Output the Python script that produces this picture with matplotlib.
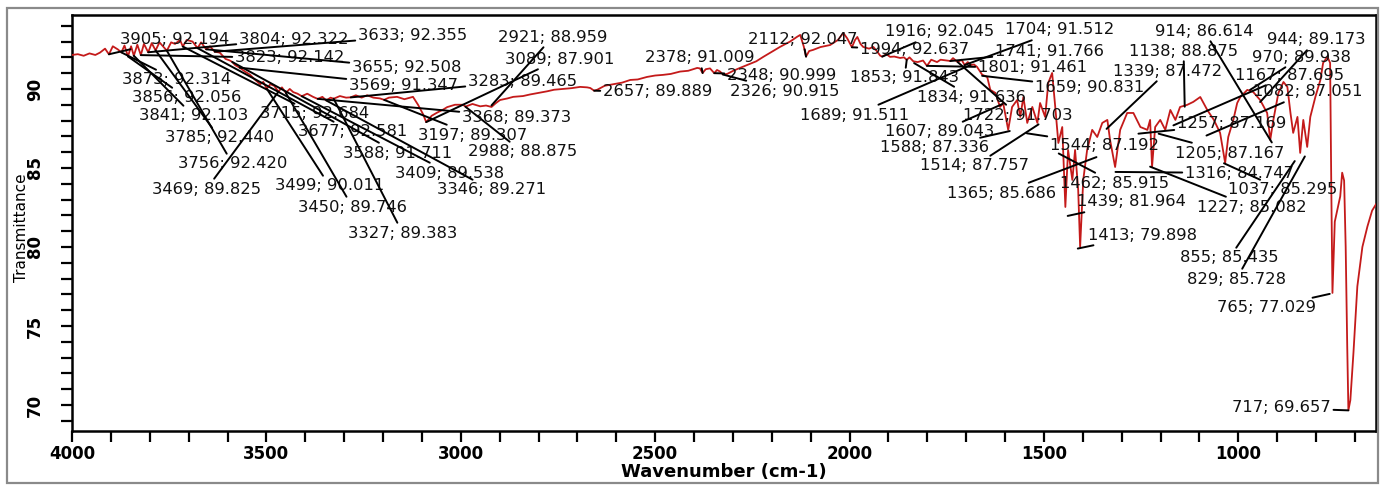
"""FTIR transmittance spectrum with peak-pick annotations (wavenumber; %T)."""

import matplotlib
matplotlib.use("Agg")  # headless
import matplotlib.pyplot as plt
from matplotlib.patches import Rectangle
from matplotlib.ticker import MultipleLocator

# spectrum, high -> low wavenumber
wavenumber = [
    4000, 3985, 3970, 3955, 3940, 3928, 3915, 3905, 3895, 3882, 3873, 3865, 3856, 3848,
    3841, 3832, 3823, 3815, 3804, 3795, 3785, 3775, 3766, 3756, 3745, 3735, 3722, 3715,
    3705, 3690, 3677, 3668, 3655, 3645, 3633, 3620, 3605, 3594, 3588, 3580, 3569, 3555,
    3542, 3530, 3516, 3508, 3499, 3490, 3480, 3469, 3460, 3450, 3440, 3431, 3420, 3409,
    3395, 3380, 3368, 3356, 3346, 3335, 3327, 3311, 3295, 3283, 3270, 3255, 3241, 3225,
    3208, 3197, 3185, 3164, 3145, 3123, 3110, 3097, 3089, 3075, 3061, 3045, 3035, 3015,
    2994, 2988, 2970, 2950, 2935, 2921, 2910, 2899, 2880, 2865, 2840, 2822, 2800, 2778,
    2760, 2737, 2715, 2693, 2675, 2667, 2657, 2649, 2630, 2608, 2585, 2564, 2545, 2521,
    2500, 2480, 2460, 2436, 2415, 2392, 2385, 2378, 2370, 2359, 2348, 2341, 2333, 2326,
    2315, 2299, 2280, 2263, 2240, 2222, 2200, 2179, 2153, 2135, 2127, 2118, 2112, 2104,
    2094, 2075, 2050, 2030, 2016, 2006, 1994, 1986, 1980, 1972, 1965, 1950, 1939, 1930,
    1921, 1916, 1905, 1896, 1885, 1870, 1860, 1853, 1846, 1836, 1825, 1811, 1801, 1790,
    1775, 1766, 1749, 1741, 1734, 1722, 1712, 1704, 1696, 1689, 1680, 1672, 1659, 1646,
    1638, 1625, 1613, 1605, 1592, 1582, 1569, 1561, 1553, 1543, 1530, 1517, 1510, 1497,
    1489, 1479, 1471, 1463, 1453, 1445, 1438, 1427, 1420, 1412, 1407, 1399, 1389, 1376,
    1363, 1350, 1337, 1330, 1317, 1304, 1286, 1270, 1252, 1234, 1227, 1222, 1214, 1201,
    1188, 1175, 1162, 1150, 1132, 1116, 1098, 1080, 1063, 1047, 1034, 1026, 1013, 1003,
    995, 977, 962, 944, 926, 918, 910, 897, 884, 874, 866, 859, 848, 841,
    833, 823, 815, 802, 789, 782, 771, 764, 761, 758, 752, 745, 738, 733,
    728, 724, 720, 717, 712, 704, 694, 681, 668, 656, 646,
]
transmittance = [
    92.15, 92.2, 92.1, 92.25, 92.15, 92.3, 92.55, 92.19, 92.7, 92.5, 92.31, 92.75, 92.06, 92.7,
    92.1, 92.8, 92.14, 92.85, 92.32, 92.9, 92.44, 92.95, 92.7, 92.42, 92.95, 92.85, 93.1, 92.68,
    93.1, 93.0, 92.58, 92.95, 92.51, 92.7, 92.36, 92.3, 91.9, 91.8, 91.71, 91.5, 91.35, 91.1,
    90.9, 90.6, 90.3, 90.45, 90.01, 90.3, 90.2, 89.83, 90.1, 89.75, 90.0, 89.8, 89.7, 89.54,
    89.7, 89.5, 89.37, 89.5, 89.27, 89.45, 89.38, 89.55, 89.45, 89.47, 89.6, 89.45, 89.6, 89.45,
    89.4, 89.31, 89.45, 89.5, 89.35, 89.5, 89.0, 88.4, 87.9, 88.3, 88.5, 88.7, 88.85, 89.0,
    89.0, 88.88, 89.05, 88.9, 88.95, 88.86, 89.1, 89.3, 89.4, 89.5, 89.55, 89.65, 89.75, 89.85,
    89.95, 90.0, 90.05, 90.13, 90.1, 90.06, 89.89, 89.95, 90.2, 90.3, 90.4, 90.57, 90.6, 90.76,
    90.85, 90.89, 90.95, 91.1, 91.15, 91.33, 91.3, 91.01, 91.25, 91.3, 91.0, 91.2, 91.1, 90.92,
    90.95, 91.15, 91.35, 91.52, 91.75, 92.03, 92.35, 92.66, 93.0, 93.3, 93.42, 92.7, 92.05, 92.4,
    92.47, 92.65, 92.78, 93.1, 93.54, 93.2, 92.64, 93.1, 93.29, 92.85, 92.66, 92.55, 92.66, 92.4,
    92.1, 92.05, 92.2, 92.03, 92.05, 91.96, 92.0, 91.84, 92.0, 91.75, 91.7, 91.8, 91.46, 91.85,
    91.7, 91.85, 91.8, 91.77, 91.95, 91.7, 91.85, 91.51, 91.7, 91.51, 91.55, 91.39, 90.9, 90.76,
    89.94, 89.75, 88.86, 89.11, 87.41, 88.86, 89.3, 88.23, 89.49, 87.85, 88.86, 87.85, 89.11, 88.23,
    90.38, 91.01, 88.86, 86.58, 87.59, 82.53, 86.14, 84.24, 86.14, 83.61, 80.0, 84.24, 86.14, 87.41,
    86.96, 87.85, 88.04, 86.77, 85.06, 87.41, 88.48, 88.48, 87.59, 87.41, 88.04, 85.06, 87.59, 88.04,
    87.41, 88.67, 88.04, 88.86, 88.99, 89.18, 89.49, 88.67, 88.04, 87.22, 85.32, 86.96, 88.04, 89.11,
    89.49, 89.94, 89.81, 89.3, 88.48, 86.77, 88.04, 89.75, 90.44, 90.13, 88.48, 87.22, 88.23, 85.95,
    88.04, 86.33, 88.23, 89.49, 90.57, 91.65, 92.03, 91.65, 83.8, 77.09, 81.6, 82.4, 83.2, 84.7,
    84.2, 80.0, 73.7, 69.66, 70.3, 73.3, 77.5, 80.0, 81.3, 82.3, 82.7,
]

# peak-pick labels as printed on the chart
peak_wn = [
    3905, 3804, 3633, 3823, 3655, 3569, 3873, 3856, 3841, 3785, 3756, 3469, 3499, 3450,
    3327, 3715, 3677, 3588, 3409, 3346, 3197, 2988, 3368, 3283, 3089, 2921, 2657, 2378,
    2348, 2326, 2112, 1916, 1994, 1853, 1689, 1704, 1741, 1801, 1659, 1834, 1722, 1607,
    1588, 1514, 1365, 1544, 1462, 1439, 1413, 1339, 1138, 914, 944, 970, 1167, 1082,
    1257, 1205, 1316, 1037, 1227, 855, 829, 765, 717,
]
peak_t = [
    92.194, 92.322, 92.355, 92.142, 92.508, 91.347, 92.314, 92.056, 92.103, 92.440, 92.420,
    89.825, 90.011, 89.746, 89.383, 92.684, 92.581, 91.711, 89.538, 89.271, 89.307, 88.875,
    89.373, 89.465, 87.901, 88.959, 89.889, 91.009, 90.999, 90.915, 92.047, 92.045, 92.637,
    91.843, 91.511, 91.512, 91.766, 91.461, 90.831, 91.636, 91.703, 89.043, 87.336, 87.757,
    85.686, 87.192, 85.915, 81.964, 79.898, 87.472, 88.875, 86.614, 89.173, 89.938, 87.695,
    87.051, 87.169, 87.167, 84.747, 85.295, 85.082, 85.435, 85.728, 77.029, 69.657,
]

# where each label's text sits (image pixels from the top-left, left edge / middle)
label_pos = [
    (120, 39), (239, 39), (358, 36), (235, 58), (352, 68), (349, 85), (122, 80), (132, 98),
    (139, 116), (165, 138), (178, 164), (152, 189), (275, 186), (298, 207), (348, 233),
    (260, 114), (298, 132), (343, 153), (395, 173), (437, 190), (418, 135), (468, 152),
    (462, 117), (468, 81), (505, 59), (498, 37), (603, 92), (645, 58), (727, 75), (730, 91),
    (748, 39), (885, 32), (860, 50), (850, 78), (800, 115), (1005, 30), (995, 51), (978, 68),
    (1035, 88), (917, 97), (963, 115), (885, 132), (880, 148), (920, 166), (947, 193),
    (1050, 145), (1060, 183), (1077, 202), (1088, 235), (1113, 71), (1129, 51), (1155, 31),
    (1267, 40), (1252, 57), (1235, 75), (1253, 92), (1177, 124), (1175, 153), (1185, 173),
    (1228, 190), (1197, 207), (1180, 258), (1187, 279), (1217, 308), (1232, 408),
]

W, H = 1380, 488
fig = plt.figure(figsize=(W / 100, H / 100), dpi=100)
ax = fig.add_axes([72 / W, 57.3 / H, 1304 / W, 415.7 / H])

ax.plot(wavenumber, transmittance, color="#c41a1a", lw=1.3, zorder=3)

for wn, t, (px, py) in zip(peak_wn, peak_t, label_pos):
    ax.annotate(f"{wn}; {t:.3f}", xy=(wn, t), xytext=(px, H - py),
                textcoords="figure pixels", ha="left", va="center",
                fontsize=11.8, color="#111111", zorder=4,
                arrowprops=dict(arrowstyle="-", color="black", lw=1.4,
                                shrinkA=0, shrinkB=0))

ax.set_xlim(4000, 646)
ax.set_ylim(68.37, 94.68)
ax.xaxis.set_major_locator(MultipleLocator(500))
ax.xaxis.set_minor_locator(MultipleLocator(100))
ax.yaxis.set_major_locator(MultipleLocator(5))
ax.yaxis.set_minor_locator(MultipleLocator(1))
ax.tick_params(which="both", direction="out", length=8, width=1.6)
ax.tick_params(axis="x", labelsize=12, pad=2)
ax.tick_params(axis="y", labelsize=12, pad=12, labelrotation=90)
for lbl in ax.get_yticklabels():
    lbl.set_va("center")
for lbl in ax.get_xticklabels() + ax.get_yticklabels():
    lbl.set_fontweight("bold")
for sp in ax.spines.values():
    sp.set_linewidth(1.8)

ax.set_xlabel("Wavenumber (cm-1)", fontsize=13, fontweight="bold", va="center")
ax.xaxis.set_label_coords(0.5, -0.1)
ax.set_ylabel("Transmittance", fontsize=11, va="center")
ax.yaxis.set_label_coords(-0.039, 0.488)

# grey frame round the whole picture
fig.patches.append(Rectangle((7 / W, 5 / H), 1371 / W, 475 / H, transform=fig.transFigure,
                             fill=False, edgecolor="#8a8a8a", lw=1.6))

fig.savefig("out.png", dpi=100)
